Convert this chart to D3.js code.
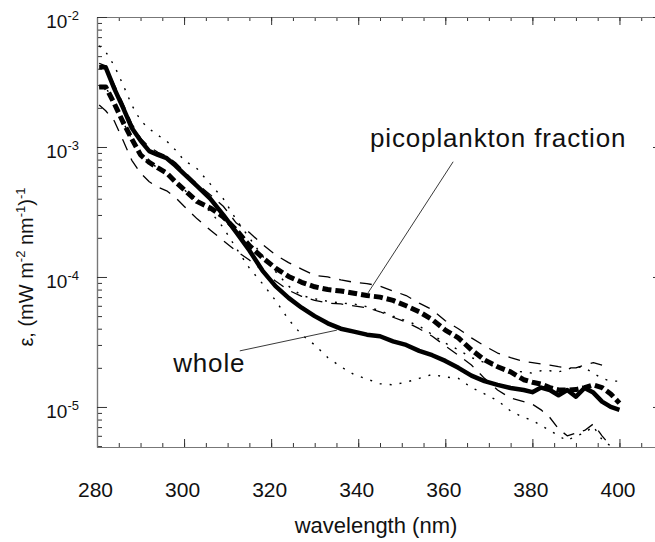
<!DOCTYPE html>
<html>
<head>
<meta charset="utf-8">
<script src="https://cdn.jsdelivr.net/npm/d3@7"></script>
<style>
  body { margin: 0; background: #fff; }
  text { font-family: "Liberation Sans", Arial, Helvetica, sans-serif; fill: #111; }
</style>
</head>
<body>
<svg></svg>
<script>
// wavelength grid (nm) shared by all curves
const wavelength = [280.5, 282, 284, 286, 288, 290, 292, 294, 296, 298, 300, 303, 306, 309, 312, 315, 318, 321, 324, 327, 330, 333, 336, 339, 342, 345, 348, 351, 354, 357, 360, 363, 366, 369, 372, 375, 378, 380, 382, 384, 386, 388, 390, 392, 394, 396, 398, 400]

const whole = [4.1e-3, 4.1e-3, 2.8e-3, 2.0e-3, 1.4e-3, 1.12e-3, 9.3e-4, 8.7e-4, 8.2e-4, 7.2e-4, 6.2e-4, 5.0e-4, 4.0e-4, 3.0e-4, 2.2e-4, 1.6e-4, 1.12e-4, 8.5e-5, 6.9e-5, 5.8e-5, 5.0e-5, 4.4e-5, 4.0e-5, 3.8e-5, 3.6e-5, 3.5e-5, 3.2e-5, 3.0e-5, 2.7e-5, 2.5e-5, 2.26e-5, 2.0e-5, 1.74e-5, 1.58e-5, 1.48e-5, 1.4e-5, 1.35e-5, 1.3e-5, 1.41e-5, 1.35e-5, 1.23e-5, 1.35e-5, 1.2e-5, 1.4e-5, 1.29e-5, 1.1e-5, 1.0e-5, 9.5e-6]
const wholeUpper = [6.0e-3, 5.4e-3, 4.2e-3, 3.0e-3, 2.1e-3, 1.6e-3, 1.38e-3, 1.23e-3, 1.11e-3, 9.5e-4, 7.9e-4, 6.8e-4, 5.2e-4, 4.0e-4, 2.75e-4, 2.0e-4, 1.45e-4, 1.1e-4, 8.5e-5, 7.2e-5, 6.8e-5, 6.5e-5, 6.3e-5, 6.2e-5, 5.9e-5, 5.5e-5, 5.0e-5, 4.6e-5, 4.2e-5, 3.6e-5, 3.1e-5, 2.75e-5, 2.4e-5, 2.2e-5, 2.0e-5, 1.9e-5, 1.86e-5, 1.82e-5, 1.9e-5, 1.9e-5, 1.86e-5, 1.95e-5, 2.04e-5, 2.0e-5, 1.82e-5, 1.66e-5, 1.58e-5, 1.58e-5]
const wholeLower = [2.9e-3, 2.9e-3, 2.15e-3, 1.55e-3, 1.15e-3, 8.7e-4, 7.6e-4, 6.9e-4, 6.3e-4, 5.4e-4, 4.7e-4, 3.8e-4, 3.2e-4, 2.4e-4, 1.66e-4, 1.17e-4, 8.9e-5, 6.6e-5, 4.7e-5, 3.6e-5, 3.0e-5, 2.4e-5, 2.04e-5, 1.78e-5, 1.64e-5, 1.51e-5, 1.48e-5, 1.55e-5, 1.66e-5, 1.78e-5, 1.7e-5, 1.66e-5, 1.41e-5, 1.26e-5, 1.12e-5, 9.3e-6, 8.3e-6, 7.9e-6, 7.2e-6, 6.6e-6, 6.0e-6, 5.5e-6, 6.0e-6, 6.3e-6, 7.1e-6, 5.6e-6, 5.0e-6, null]

const pico = [2.9e-3, 2.9e-3, 2.15e-3, 1.55e-3, 1.15e-3, 8.7e-4, 7.6e-4, 6.9e-4, 6.3e-4, 5.4e-4, 4.7e-4, 3.8e-4, 3.4e-4, 2.9e-4, 2.3e-4, 1.74e-4, 1.41e-4, 1.17e-4, 1.01e-4, 9.1e-5, 8.4e-5, 8.0e-5, 7.8e-5, 7.5e-5, 7.2e-5, 7.0e-5, 6.6e-5, 6.0e-5, 5.4e-5, 4.7e-5, 3.9e-5, 3.4e-5, 2.75e-5, 2.3e-5, 2.04e-5, 1.86e-5, 1.62e-5, 1.55e-5, 1.5e-5, 1.41e-5, 1.35e-5, 1.35e-5, 1.36e-5, 1.41e-5, 1.48e-5, 1.41e-5, 1.26e-5, 1.07e-5]
const picoUpper = [4.4e-3, 4.2e-3, 3.0e-3, 2.15e-3, 1.51e-3, 1.17e-3, 1.0e-3, 9.1e-4, 8.5e-4, 7.6e-4, 6.5e-4, 5.2e-4, 4.3e-4, 3.5e-4, 2.6e-4, 2.2e-4, 1.78e-4, 1.48e-4, 1.29e-4, 1.15e-4, 1.03e-4, 1.0e-4, 9.5e-5, 9.1e-5, 8.9e-5, 8.5e-5, 7.8e-5, 7.2e-5, 6.3e-5, 5.6e-5, 4.6e-5, 4.0e-5, 3.4e-5, 2.95e-5, 2.6e-5, 2.4e-5, 2.24e-5, 2.19e-5, 2.14e-5, 2.1e-5, 2.04e-5, 2.0e-5, 2.0e-5, 2.1e-5, 2.19e-5, 2.1e-5, null, null]
const picoLower = [2.1e-3, 1.9e-3, 1.58e-3, 1.12e-3, 7.9e-4, 6.3e-4, 5.4e-4, 4.9e-4, 4.6e-4, 4.1e-4, 3.5e-4, 2.8e-4, 2.3e-4, 1.9e-4, 1.58e-4, 1.35e-4, 1.12e-4, 9.3e-5, 7.9e-5, 7.1e-5, 6.6e-5, 6.3e-5, 6.2e-5, 6.0e-5, 5.8e-5, 5.4e-5, 4.9e-5, 4.5e-5, 4.0e-5, 3.5e-5, 2.95e-5, 2.5e-5, 2.1e-5, 1.66e-5, 1.35e-5, 1.17e-5, 1.1e-5, 1.05e-5, 9.5e-6, 8.3e-6, 6.8e-6, 6.0e-6, 6.3e-6, 6.6e-6, 7.4e-6, 6.0e-6, 5.0e-6, null]

const xTicks = [280, 300, 320, 340, 360, 380, 400]
const yTicks = [1e-2, 1e-3, 1e-4, 1e-5]
const yTickExponents = ["-2", "-3", "-4", "-5"]

// callouts, in data units: label anchor, leader start, leader end
const callouts = [
  {text: "picoplankton fraction", at: [342.7, 1.0e-3], from: [361.8, 7.7e-4], to: [342.2, 7.5e-5]},
  {text: "whole", at: [297.5, 1.86e-5], from: [312.8, 2.7e-5], to: [335.1, 3.9e-5]}
]

const svg = d3.select("svg").attr("width", 655).attr("height", 542),
  margin = {top: 17, right: -8, bottom: 95, left: 97},
  width = 655 - margin.left - margin.right,
  height = 542 - margin.top - margin.bottom

const x = d3.scaleLinear().domain([280, 410]).range([margin.left, margin.left + width]),
      y = d3.scaleLog().domain([4.92e-6, 1e-2]).range([margin.top + height, margin.top]),
      line = d3.line().defined(d => d[1] != null).x(d => x(d[0])).y(d => y(d[1]))

const minorX = d3.range(280, 411, 5),
      minorY = y.ticks().filter(d => !yTicks.includes(d))

const bottom = margin.top + height, right = margin.left + width

const frame = svg.append("g")
const styleAxis = g => { g.select(".domain").style("stroke", "#777").style("stroke-width", 1.2); g.selectAll(".tick line").style("stroke", "#333") }

frame.append("g").attr("transform", `translate(0,${bottom})`).call(d3.axisBottom(x).tickValues(minorX).tickSize(-4).tickSizeOuter(0).tickFormat("")).call(styleAxis)
frame.append("g").attr("transform", `translate(0,${bottom})`).call(d3.axisBottom(x).tickValues(xTicks).tickSize(-8).tickSizeOuter(0).tickPadding(35).tickFormat(d3.format("d"))).call(styleAxis)
  .selectAll("text").attr("x", -2).style("font-size", "21px").style("font-family", null)
frame.append("g").attr("transform", `translate(0,${margin.top})`).call(d3.axisTop(x).tickValues(minorX).tickSize(-4).tickSizeOuter(0).tickFormat("")).call(styleAxis)
frame.append("g").attr("transform", `translate(0,${margin.top})`).call(d3.axisTop(x).tickValues(xTicks).tickSize(-8).tickSizeOuter(0).tickFormat("")).call(styleAxis)

frame.append("g").attr("transform", `translate(${margin.left},0)`).call(d3.axisLeft(y).tickValues(minorY).tickSize(-5).tickSizeOuter(0).tickFormat("")).call(styleAxis)
frame.append("g").attr("transform", `translate(${margin.left},0)`).call(d3.axisLeft(y).tickValues(yTicks).tickSize(-10).tickSizeOuter(0).tickFormat("")).call(styleAxis)
frame.append("g").attr("transform", `translate(${right},0)`).call(d3.axisRight(y).tickValues(minorY).tickSize(-5).tickSizeOuter(0).tickFormat("")).call(styleAxis)
frame.append("g").attr("transform", `translate(${right},0)`).call(d3.axisRight(y).tickValues(yTicks).tickSize(-10).tickSizeOuter(0).tickFormat("")).call(styleAxis)
frame.selectAll(".tick text").style("font-family", null)

// y tick labels as 10 with a superscript exponent
svg.append("g").selectAll("text").data(yTicks).join("text")
  .attr("x", margin.left - 18).attr("y", d => y(d) + 11).attr("text-anchor", "end").style("font-size", "19px")
  .call(t => t.append("tspan").text("10"))
  .call(t => t.append("tspan").attr("dy", -8).style("font-size", "13px").text((d, i) => yTickExponents[i]))

svg.append("text").attr("x", 376).attr("y", 533).attr("text-anchor", "middle").style("font-size", "22px").text("wavelength (nm)")

const ylab = svg.append("text").attr("transform", "translate(33,267) rotate(-90)").attr("text-anchor", "middle").style("font-size", "20px")
ylab.append("tspan").text("ε, (mW m")
ylab.append("tspan").attr("dy", -8).style("font-size", "13px").text("-2")
ylab.append("tspan").attr("dy", 8).text(" nm")
ylab.append("tspan").attr("dy", -8).style("font-size", "13px").text("-1")
ylab.append("tspan").attr("dy", 8).text(")")
ylab.append("tspan").attr("dy", -8).style("font-size", "13px").text("-1")

const series = [
  {values: wholeUpper, dash: "2,8", width: 1.4},
  {values: wholeLower, dash: "2,8", width: 1.4},
  {values: picoUpper, dash: "12,9", width: 1.3},
  {values: picoLower, dash: "12,9", width: 1.3},
  {values: pico, dash: "9,4", width: 5},
  {values: whole, dash: null, width: 4.5}
]

const plot = svg.append("g")
plot.selectAll("path").data(series).join("path")
  .attr("d", s => line(wavelength.map((w, i) => [w, s.values[i]])))
  .style("fill", "none").style("stroke", "#000").style("stroke-width", s => s.width)
  .style("stroke-dasharray", s => s.dash).style("stroke-linejoin", "round")

const notes = svg.append("g")
notes.selectAll("line").data(callouts).join("line")
  .attr("x1", d => x(d.from[0])).attr("y1", d => y(d.from[1])).attr("x2", d => x(d.to[0])).attr("y2", d => y(d.to[1]))
  .style("stroke", "#222").style("stroke-width", 0.9)
notes.selectAll("text").data(callouts).join("text")
  .attr("x", d => x(d.at[0])).attr("y", d => y(d.at[1])).style("font-size", "26px").style("letter-spacing", "0.85px").text(d => d.text)
</script>
</body>
</html>
